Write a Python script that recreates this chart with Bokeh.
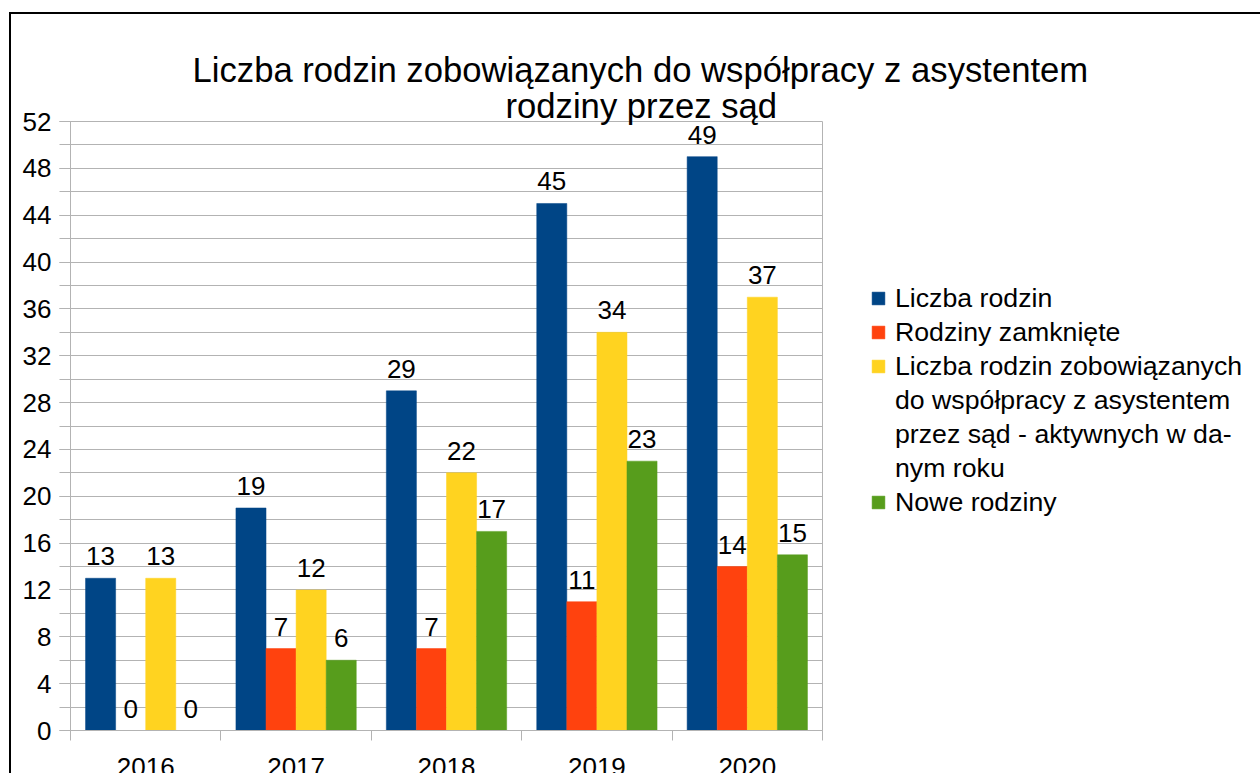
from bokeh.plotting import figure
from bokeh.models import (ColumnDataSource, Range1d, FixedTicker, SingleIntervalTicker,
                          Legend, LegendItem, LabelSet, Title, GlobalInlineStyleSheet)
from bokeh.transform import dodge
from bokeh.core.properties import value
from bokeh.embed import file_html
from bokeh.resources import INLINE

# ---- data ----
years = ["2016", "2017", "2018", "2019", "2020"]
liczba_rodzin = [13, 19, 29, 45, 49]
rodziny_zamkniete = [0, 7, 7, 11, 14]
zobowiazane_aktywne = [13, 12, 22, 34, 37]
nowe_rodziny = [0, 6, 17, 23, 15]

series_labels = [
    "Liczba rodzin",
    "Rodziny zamknięte",
    "Liczba rodzin zobowiązanych",
    "Nowe rodziny",
]
series_label_cont = ["do współpracy z asystentem", "przez sąd - aktywnych w da-", "nym roku"]
title_lines = ["Liczba rodzin zobowiązanych do współpracy z asystentem",
               "rodziny przez sąd"]
y_max = 52
y_step = 4

# ---- styles ----
colors = ["#004586", "#ff420e", "#ffd320", "#579d1c"]
GRAY = "#b3b3b3"
FONT = "Liberation Sans"
FS = "26px"
LFS = "26.7px"
LEG_X = 48

series = [liczba_rodzin, rodziny_zamkniete, zobowiazane_aktywne, nowe_rodziny]
cols = ["s0", "s1", "s2", "s3"]
xc = [i + 0.5 for i in range(len(years))]
data = {"x": xc, "year": years}
for c, s in zip(cols, series):
    data[c] = s
    data[c + "_lbl"] = [str(v) for v in s]
src = ColumnDataSource(data)

p = figure(x_range=Range1d(0, len(years)), y_range=Range1d(0, y_max),
           output_backend="svg", toolbar_location=None, title=None,
           min_border_left=59, min_border_right=20,
           min_border_top=107, min_border_bottom=60)
p.frame_width = 752
p.frame_height = 609
p.background_fill_color = "white"
p.border_fill_color = "white"
p.outline_line_color = GRAY
p.outline_line_width = 1
p.styles = {"border-top": "2px solid black", "border-left": "2px solid black"}
p.margin = (12, 0, 0, 9)
# the chart is wider/taller than the window, like the cropped reference
p.stylesheets = [GlobalInlineStyleSheet(css="html, body { overflow: hidden; }")]

offsets = [-0.3, -0.1, 0.1, 0.3]
renderers = []
for k, c in enumerate(cols):
    r = p.vbar(x=dodge("x", offsets[k], range=p.x_range), top=c, width=0.2, source=src,
               fill_color=colors[k], line_color=colors[k], line_width=0.5)
    renderers.append(r)
    p.add_layout(LabelSet(x=dodge("x", offsets[k], range=p.x_range), y=c, text=c + "_lbl",
                          source=src, text_align="center", text_baseline="alphabetic",
                          y_offset=13, text_font=value(FONT), text_font_size=FS,
                          text_color="black"))

# invisible renderer carrying the continuation lines of the 3rd legend entry
r_blank = p.vbar(x=[], top=[], width=0.2, fill_alpha=0, line_alpha=0)

# x axis: year labels at group centres, separator ticks between groups
xa = p.xaxis[0]
xa.ticker = FixedTicker(ticks=xc, minor_ticks=list(range(len(years) + 1)))
xa.major_label_overrides = {x: y for x, y in zip(xc, years)}
xa.major_label_text_font = FONT
xa.major_label_text_font_size = FS
xa.major_label_text_color = "black"
xa.major_label_standoff = 17
xa.axis_line_color = GRAY
xa.major_tick_line_color = None
xa.major_tick_out = 0
xa.major_tick_in = 0
xa.minor_tick_line_color = GRAY
xa.minor_tick_out = 10
xa.minor_tick_in = 0

ya = p.yaxis[0]
ya.ticker = SingleIntervalTicker(interval=y_step, num_minor_ticks=2)
ya.axis_line_color = GRAY
ya.major_tick_line_color = GRAY
ya.minor_tick_line_color = GRAY
ya.major_tick_out = 11
ya.minor_tick_out = 11
ya.major_tick_in = 0
ya.minor_tick_in = 0
ya.major_label_text_font = FONT
ya.major_label_text_font_size = FS
ya.major_label_text_color = "black"
ya.major_label_standoff = 8

p.xgrid.visible = False
p.ygrid.grid_line_color = GRAY
p.ygrid.minor_grid_line_color = GRAY

# legend
items = [LegendItem(label=series_labels[0], renderers=[renderers[0]]),
         LegendItem(label=series_labels[1], renderers=[renderers[1]]),
         LegendItem(label=series_labels[2], renderers=[renderers[2]])]
items += [LegendItem(label=t, renderers=[r_blank]) for t in series_label_cont]
items += [LegendItem(label=series_labels[3], renderers=[renderers[3]])]
legend = Legend(items=items, location=(LEG_X, 211), orientation="vertical",
                glyph_width=16, glyph_height=16, label_standoff=9, spacing=0,
                padding=0, margin=0, border_line_color=None, background_fill_alpha=0,
                label_text_font=FONT, label_text_font_size=LFS,
                label_text_color="black", label_height=34)
p.add_layout(legend, "right")

# title (two lines)
t2 = Title(text=title_lines[1], align="left", offset=435, standoff=-7,
           text_font=FONT, text_font_size="34.67px", text_font_style="normal",
           text_color="black")
t1 = Title(text=title_lines[0], align="left", offset=122, standoff=0,
           text_font=FONT, text_font_size="34.67px", text_font_style="normal",
           text_color="black")
p.add_layout(t2, "above")
p.add_layout(t1, "above")

open("out.html", "w").write(file_html(p, INLINE))
